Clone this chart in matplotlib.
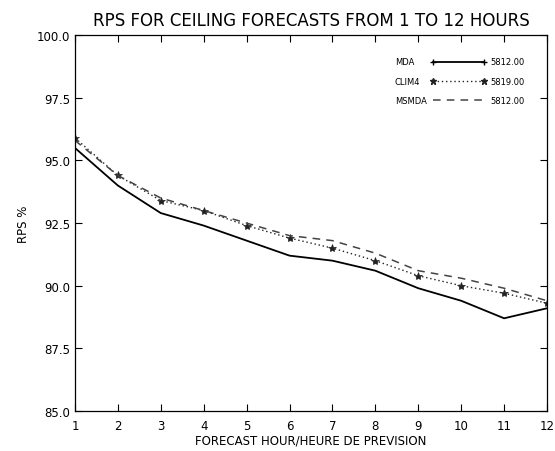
import matplotlib
matplotlib.use("Agg")
import matplotlib.pyplot as plt
from matplotlib.lines import Line2D

hours = [1, 2, 3, 4, 5, 6, 7, 8, 9, 10, 11, 12]
mda = [95.5, 94.0, 92.9, 92.4, 91.8, 91.2, 91.0, 90.6, 89.9, 89.4, 88.7, 89.1]
clim4 = [95.9, 94.4, 93.4, 93.0, 92.4, 91.9, 91.5, 91.0, 90.4, 90.0, 89.7, 89.3]
msmda = [95.8, 94.4, 93.5, 93.0, 92.5, 92.0, 91.8, 91.3, 90.6, 90.3, 89.9, 89.4]
series_names = ["MDA", "CLIM4", "MSMDA"]
series_counts = ["5812.00", "5819.00", "5812.00"]
yticks = [85.0, 87.5, 90.0, 92.5, 95.0, 97.5, 100.0]

fig = plt.figure(figsize=(5.55, 4.52), dpi=100)
ax = fig.add_axes([0.135, 0.0885, 0.8506, 0.8315])

ax.plot(hours, mda, color="black", lw=1.3, ls="-")
ax.plot(hours, clim4, color="#222222", lw=1.0, ls=(0, (1, 2)), marker="*",
        markersize=6, markeredgewidth=0.5)
ax.plot(hours, msmda, color="#444444", lw=1.1, ls=(0, (5, 4)))

ax.set_xlim(1, 12)
ax.set_ylim(85, 100)
ax.set_xticks(hours)
ax.set_xticklabels([str(h) for h in hours])
ax.set_yticks(yticks)
ax.set_yticklabels([f"{v:.1f}" for v in yticks])
ax.tick_params(axis="both", direction="in", length=5, width=0.8, labelsize=8.5,
               top=True, right=True, colors="black")
ax.tick_params(axis="x", pad=6)
for s in ax.spines.values():
    s.set_linewidth(0.9)

ax.set_title("RPS FOR CEILING FORECASTS FROM 1 TO 12 HOURS", fontsize=12, pad=7)
ax.set_xlabel("FORECAST HOUR/HEURE DE PREVISION", fontsize=8.5, labelpad=1)
ax.set_ylabel("RPS %", fontsize=8.5, labelpad=5)

# legend block
rows_y = [0.929, 0.877, 0.827]
styles = [dict(color="black", lw=1.3, ls="-", marker="+", markersize=4),
          dict(color="#222222", lw=1.0, ls=(0, (1, 2)), marker="*", markersize=5),
          dict(color="#444444", lw=1.1, ls=(0, (5, 4)), marker=None)]
for name, cnt, yy, st in zip(series_names, series_counts, rows_y, styles):
    ax.text(0.678, yy, name, transform=ax.transAxes, fontsize=6,
            va="center", ha="left")
    ax.add_line(Line2D([0.758, 0.8665], [yy, yy], transform=ax.transAxes, **st))
    ax.text(0.879, yy, cnt, transform=ax.transAxes, fontsize=6,
            va="center", ha="left")

fig.savefig("out.png", dpi=100)
